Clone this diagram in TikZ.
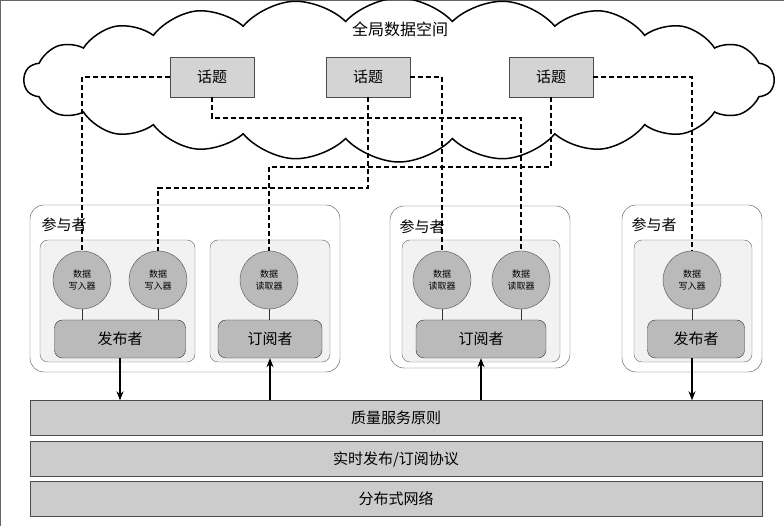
\documentclass[tikz,border=0pt]{standalone}
\usepackage{fontspec}
\newfontfamily\cjk{Noto Sans CJK SC}
\usetikzlibrary{shapes.symbols,arrows.meta}
\tikzset{
  topic/.style={draw=black!70, fill=black!17, minimum width=84pt, minimum height=40pt, font=\cjk\fontsize{15}{17}\selectfont},
  group/.style={draw=black!70, rounded corners=14pt},
  inner/.style={draw=black!60, fill=black!5, rounded corners=8pt},
  entity/.style={circle, draw=black!70, fill=black!27, minimum size=58pt, inner sep=0pt, align=center, font=\cjk\fontsize{9}{12}\selectfont},
  role/.style={draw=black!80, fill=black!27, rounded corners=8pt, font=\cjk\fontsize{15}{17}\selectfont},
  layer/.style={draw=black!70, fill=black!20, minimum width=732pt, minimum height=35pt, font=\cjk\fontsize{15}{17}\selectfont},
  link/.style={dash pattern=on 5pt off 3pt, line width=1.4pt},
  flow/.style={line width=1.2pt, -{Stealth[length=9pt,width=7pt]}},
  tag/.style={font=\cjk\fontsize{15}{17}\selectfont, anchor=west}
}
\begin{document}
\begin{tikzpicture}[x=1pt,y=-1pt]
  \useasboundingbox (0,0) rectangle (784,526);
  \draw[black!60] (0,0) rectangle (784,526);
  % global data space
  \node (space) [cloud, cloud ignores aspect, cloud puffs=22, cloud puff arc=95, draw=black, line width=1.5pt, minimum width=750pt, minimum height=164pt] at (399,80) {};
  \node (title) [font=\cjk\fontsize{16}{18}\selectfont] at (400,29) {全局数据空间};
  \node (t1) [topic] at (212,77) {话题};
  \node (t2) [topic] at (368,77) {话题};
  \node (t3) [topic] at (551,77) {话题};
  % participants
  \draw[group] (30,205) rectangle (340,372);
  \draw[group] (390,206) rectangle (570,368);
  \draw[group] (622,205) rectangle (762,372);
  \node (p1) [tag] at (38,225) {参与者};
  \node (p2) [tag] at (396,227) {参与者};
  \node (p3) [tag] at (628,225) {参与者};
  \draw[inner] (40,240) rectangle (195,362);
  \draw[inner] (210,240) rectangle (330,362);
  \draw[inner] (402,240) rectangle (560,362);
  \draw[inner] (634,240) rectangle (752,362);
  \node (w1) [entity] at (82,280) {数据\\写入器};
  \node (w2) [entity] at (158,280) {数据\\写入器};
  \node (r1) [entity] at (269,280) {数据\\读取器};
  \node (r2) [entity] at (442,280) {数据\\读取器};
  \node (r3) [entity] at (521,280) {数据\\读取器};
  \node (w3) [entity] at (692,280) {数据\\写入器};
  \node (pub1) [role, minimum width=131pt, minimum height=38pt] at (120,339) {发布者};
  \node (sub1) [role, minimum width=104pt, minimum height=38pt] at (270,339) {订阅者};
  \node (sub2) [role, minimum width=130pt, minimum height=38pt] at (481,339) {订阅者};
  \node (pub2) [role, minimum width=97pt, minimum height=38pt] at (696,339) {发布者};
  \foreach \e/\r in {w1/pub1, w2/pub1, r1/sub1, r2/sub2, r3/sub2, w3/pub2}
    \draw[black!80] (\e) -- (\e |- \r.north);
  % layers
  \node (qos) [layer] at (396,418) {质量服务原则};
  \node (rtps) [layer] at (396,459) {实时发布/订阅协议};
  \node (net) [layer] at (396,499) {分布式网络};
  \draw[flow] (pub1.south) -- (pub1.south |- qos.north);
  \draw[flow] (qos.north -| sub1.south) -- (sub1.south);
  \draw[flow] (qos.north -| sub2.south) -- (sub2.south);
  \draw[flow] (pub2.south -| w3) -- (qos.north -| w3);
  % topic links
  \draw[link] (t1.west) -| (w1.north);
  \draw[link] (t1.south) |- (521,118) -- (r3.north);
  \draw[link] (t2.east) -| (r2.north);
  \draw[link] (t2.south) |- (158,188) -- (w2.north);
  \draw[link] (t3.east) -| (w3.north);
  \draw[link] (t3.south) |- (269,167) -- (r1.north);
\end{tikzpicture}
\end{document}
